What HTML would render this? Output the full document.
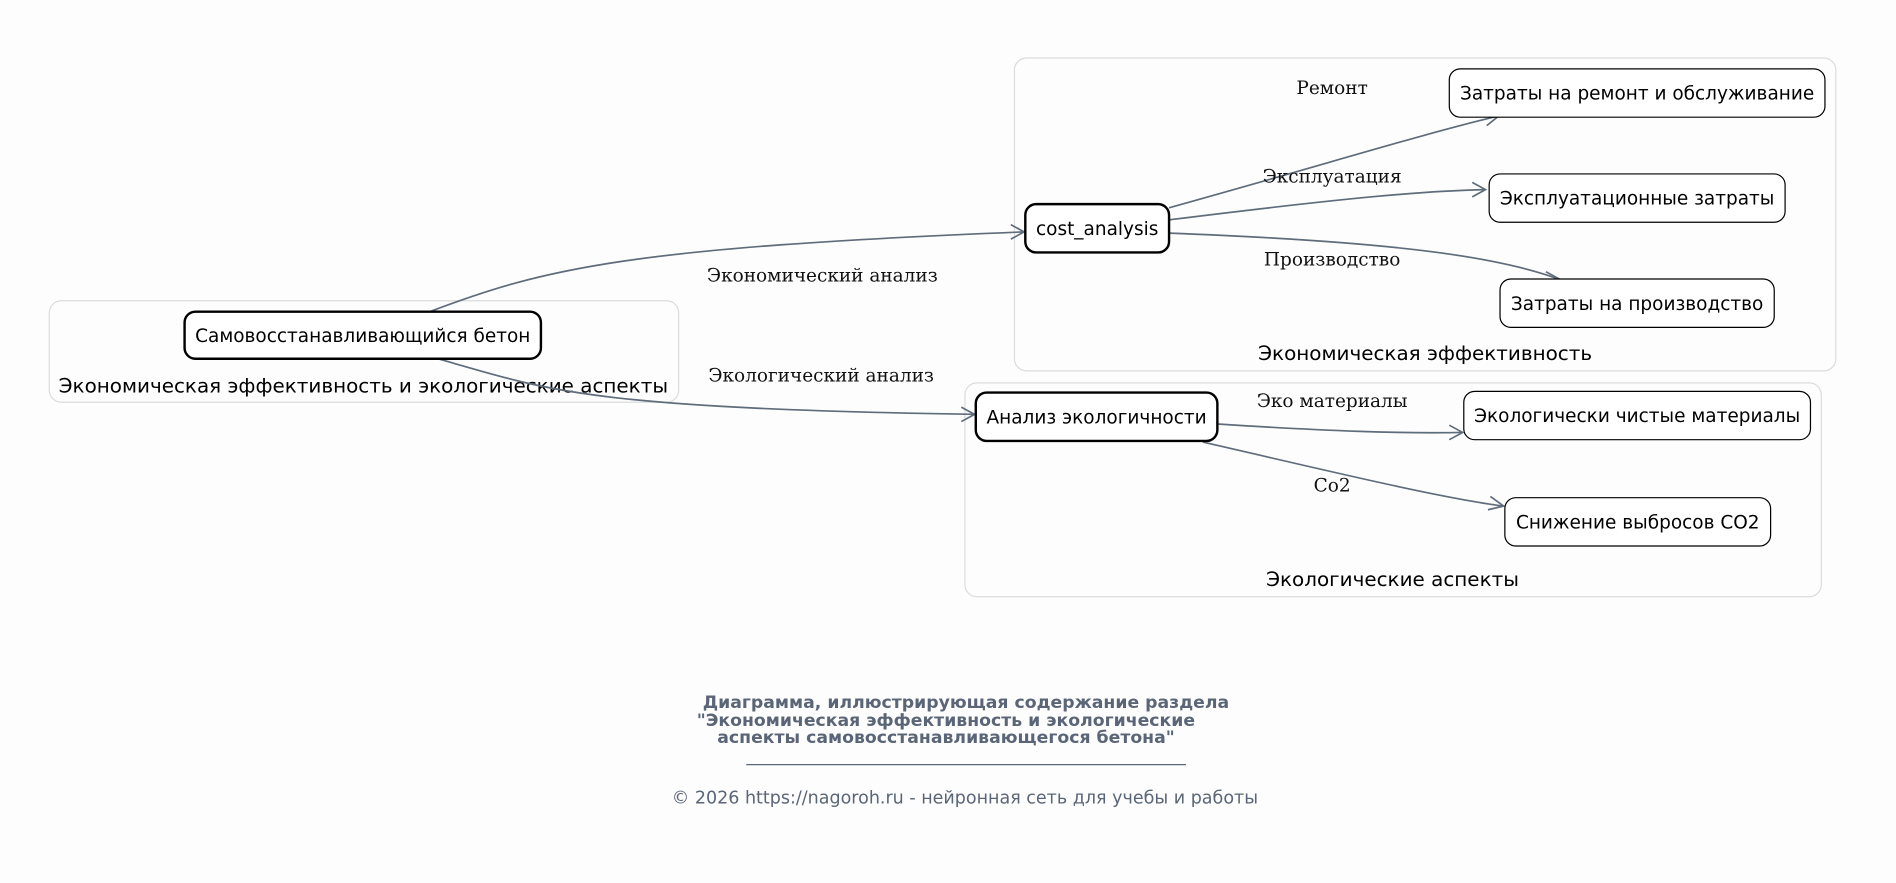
<!DOCTYPE html>
<html><head><meta charset="utf-8"><style>
html,body{margin:0;padding:0;background:#fdfdfd;}
svg{display:block;}
.n{font-family:"DejaVu Sans","Liberation Sans",sans-serif;font-size:15.3px;fill:#000;text-anchor:middle;}
.e{font-family:"DejaVu Serif","Liberation Serif",serif;font-size:15.3px;fill:#111;text-anchor:middle;}
.c{font-family:"DejaVu Sans","Liberation Sans",sans-serif;font-size:16.5px;fill:#000;text-anchor:middle;}
.ed{fill:none;stroke:#5f6c7b;stroke-width:1.4;}
.ah{fill:none;stroke:#5f6c7b;stroke-width:1.4;}
.t{font-family:"DejaVu Sans","Liberation Sans",sans-serif;font-size:14.3px;font-weight:bold;fill:#5a6677;}
</style></head><body>
<svg width="1896" height="883" viewBox="0 0 1568 731" xmlns="http://www.w3.org/2000/svg">
<rect width="1568" height="731" fill="#fdfdfd"/>
<rect x="40" y="249" width="521" height="84" rx="10" fill="none" stroke="#dcdcdc"/>
<text class="c" x="300" y="325">Экономическая эффективность и экологические аспекты</text>
<rect x="839" y="48" width="680" height="259" rx="10" fill="none" stroke="#dcdcdc"/>
<text class="c" x="1179" y="298">Экономическая эффективность</text>
<rect x="798" y="317" width="709" height="177" rx="10" fill="none" stroke="#dcdcdc"/>
<text class="c" x="1152" y="485">Экологические аспекты</text>
<path class="ed" d="M355,258 C450,222 520,205 846,192"/>
<path class="ah" d="M836,186 L847,192 L836,198"/>
<text class="e" x="680" y="233">Экономический анализ</text>
<path class="ed" d="M362,297 C450,322 480,338 805,343"/>
<path class="ah" d="M795,337 L806,343 L795,349"/>
<text class="e" x="679" y="316">Экологический анализ</text>
<path class="ed" d="M967,172 C1100,135 1180,110 1240,96"/>
<path class="ah" d="M1227,93 L1240,96 L1230,104"/>
<text class="e" x="1102" y="78">Ремонт</text>
<path class="ed" d="M967,182 C1120,163 1180,158 1229,157"/>
<path class="ah" d="M1218,151 L1229,157 L1218,163"/>
<text class="e" x="1102" y="151">Эксплуатация</text>
<path class="ed" d="M967,193 C1150,200 1240,212 1292,232"/>
<path class="ah" d="M1279,225 L1292,232 L1278,235"/>
<text class="e" x="1102" y="220">Производство</text>
<path class="ed" d="M1007,351 C1100,357 1160,359 1210,358"/>
<path class="ah" d="M1199,352 L1210,358 L1199,364"/>
<text class="e" x="1102" y="337">Эко материалы</text>
<path class="ed" d="M995,366 C1100,390 1190,412 1244,419"/>
<path class="ah" d="M1233,411 L1244,419 L1231,422"/>
<text class="e" x="1102" y="407">Co2</text>
<rect x="152" y="258" width="295" height="39" rx="9" fill="#fff" stroke="#000" stroke-width="2"/>
<text class="n" x="299.5" y="283">Самовосстанавливающийся бетон</text>
<rect x="848" y="169" width="119" height="40" rx="9" fill="#fff" stroke="#000" stroke-width="2"/>
<text class="n" x="907.5" y="194.5">cost_analysis</text>
<rect x="1199" y="57" width="311" height="40" rx="9" fill="#fff" stroke="#000" stroke-width="1"/>
<text class="n" x="1354.5" y="82.5">Затраты на ремонт и обслуживание</text>
<rect x="1232" y="144" width="245" height="40" rx="9" fill="#fff" stroke="#000" stroke-width="1"/>
<text class="n" x="1354.5" y="169.5">Эксплуатационные затраты</text>
<rect x="1241" y="231" width="227" height="40" rx="9" fill="#fff" stroke="#000" stroke-width="1"/>
<text class="n" x="1354.5" y="256.5">Затраты на производство</text>
<rect x="807" y="325" width="200" height="40" rx="9" fill="#fff" stroke="#000" stroke-width="2"/>
<text class="n" x="907" y="350.5">Анализ экологичности</text>
<rect x="1211" y="324" width="287" height="40" rx="9" fill="#fff" stroke="#000" stroke-width="1"/>
<text class="n" x="1354.5" y="349.5">Экологически чистые материалы</text>
<rect x="1245" y="412" width="220" height="40" rx="9" fill="#fff" stroke="#000" stroke-width="1"/>
<text class="n" x="1355" y="437.5">Снижение выбросов CO2</text>
<text class="t" x="581" y="586">Диаграмма, иллюстрирующая содержание раздела</text>
<text class="t" x="576" y="601">"Экономическая эффективность и экологические</text>
<text class="t" x="593" y="615">аспекты самовосстанавливающегося бетона"</text>
<line x1="617" y1="633" x2="981" y2="633" stroke="#5a6677" stroke-width="1"/>
<text x="798" y="665" text-anchor="middle" style="font-family:'DejaVu Sans','Liberation Sans',sans-serif;font-size:14.5px;fill:#5a6677;">© 2026 https://nagoroh.ru - нейронная сеть для учебы и работы</text>
</svg>
</body></html>
